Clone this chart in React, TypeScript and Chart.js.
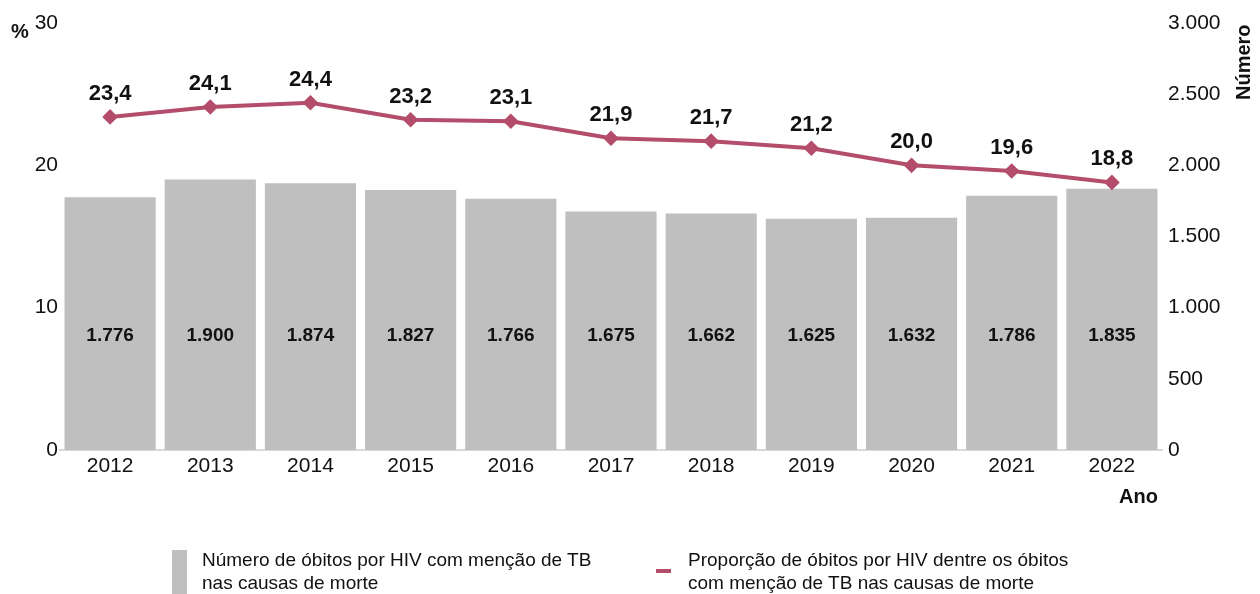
import React, { useEffect, useRef } from "react";
import { Chart, registerables } from "chart.js";
Chart.register(...registerables);

const years = ["2012", "2013", "2014", "2015", "2016", "2017", "2018", "2019", "2020", "2021", "2022"];
const proportion = [23.4, 24.1, 24.4, 23.2, 23.1, 21.9, 21.7, 21.2, 20.0, 19.6, 18.8];
const deaths = [1776, 1900, 1874, 1827, 1766, 1675, 1662, 1625, 1632, 1786, 1835];
const barLabel = "Número de óbitos por HIV com menção de TB nas causas de morte";
const lineLabel = "Proporção de óbitos por HIV dentre os óbitos com menção de TB nas causas de morte";

const NARROW = '"Liberation Sans Narrow", "Arial Narrow", "Liberation Sans", Arial, sans-serif';
const SANS = '"Liberation Sans", Arial, sans-serif';
const BAR_COLOR = "#bfbfbf";
const LINE_COLOR = "#b44d6b";

const fmtThousands = (v: number) => {
  const s = Math.round(v).toString();
  return s.replace(/\B(?=(\d{3})+(?!\d))/g, ".");
};
const fmtDecimal = (v: number) => v.toFixed(1).replace(".", ",");

const labelPlugin = {
  id: "valueLabels",
  afterDatasetsDraw(chart: any) {
    const ctx = chart.ctx;
    ctx.save();
    ctx.fillStyle = "#111";
    ctx.textAlign = "center";
    ctx.textBaseline = "middle";
    const barMeta = chart.getDatasetMeta(0);
    const yLevel = chart.scales.y1.getPixelForValue(800);
    ctx.font = `bold 19px ${SANS}`;
    barMeta.data.forEach((el: any, i: number) => {
      ctx.fillText(fmtThousands(deaths[i]), el.x, yLevel);
    });
    const lineMeta = chart.getDatasetMeta(1);
    ctx.font = `bold 22px ${SANS}`;
    lineMeta.data.forEach((el: any, i: number) => {
      ctx.fillText(fmtDecimal(proportion[i]), el.x, el.y - 23);
    });
    ctx.restore();
  },
};

export default function App() {
  const ref = useRef<HTMLCanvasElement | null>(null);
  useEffect(() => {
    if (!ref.current) return;
    const chart = new Chart(ref.current, {
      type: "bar",
      data: {
        labels: years,
        datasets: [
          {
            type: "bar",
            label: barLabel,
            data: deaths,
            yAxisID: "y1",
            backgroundColor: BAR_COLOR,
            barPercentage: 0.91,
            categoryPercentage: 1,
            order: 2,
          },
          {
            type: "line",
            label: lineLabel,
            data: proportion,
            yAxisID: "y",
            borderColor: LINE_COLOR,
            backgroundColor: LINE_COLOR,
            borderWidth: 4,
            pointStyle: "rectRot",
            pointRadius: 5,
            pointHoverRadius: 5,
            tension: 0,
            order: 1,
          } as any,
        ],
      },
      options: {
        animation: false,
        responsive: false,
        maintainAspectRatio: false,
        layout: { padding: { top: 23, left: 0, right: 0, bottom: 0 } },
        plugins: { legend: { display: false }, tooltip: { enabled: false } },
        scales: {
          x: {
            grid: { display: false, drawTicks: false, tickLength: 0 },
            border: { display: true, color: "#d9d9d9", width: 2 },
            ticks: { color: "#111", font: { family: NARROW, size: 21 }, padding: 4 },
            afterFit: (s: any) => { s.height = 144; },
          },
          y: {
            position: "left",
            min: 0,
            max: 30,
            grid: { display: false, drawTicks: false, tickLength: 0 },
            border: { display: false },
            ticks: { stepSize: 10, color: "#111", font: { family: NARROW, size: 21 }, padding: 2 },
            afterFit: (s: any) => { s.width = 60; },
          },
          y1: {
            position: "right",
            min: 0,
            max: 3000,
            grid: { display: false, drawTicks: false, tickLength: 0 },
            border: { display: false },
            ticks: {
              stepSize: 500,
              color: "#111",
              font: { family: NARROW, size: 21 },
              padding: 6,
              callback: (v: any) => fmtThousands(Number(v)),
            },
            afterFit: (s: any) => { s.width = 98; },
          },
        },
      },
      plugins: [labelPlugin],
    });
    return () => chart.destroy();
  }, []);

  const txt: React.CSSProperties = { position: "absolute", fontFamily: NARROW, color: "#111", whiteSpace: "nowrap" };
  return (
    <div style={{ position: "fixed", left: 0, top: 0, width: 1260, height: 594, background: "#fff", overflow: "hidden" }}>
      <canvas ref={ref} width={1260} height={594} style={{ position: "absolute", left: 0, top: 0, width: 1260, height: 594 }} />
      <div style={{ ...txt, left: 11, top: 20, fontSize: 20, fontWeight: "bold" }}>%</div>
      <div style={{ ...txt, left: 1231, top: 100, fontSize: 20, fontWeight: "bold", transform: "rotate(-90deg)", transformOrigin: "left top", lineHeight: "24px" }}>Número</div>
      <div style={{ ...txt, right: 1260 - 1158, top: 485, fontSize: 20, fontWeight: "bold" }}>Ano</div>
      <div style={{ position: "absolute", left: 172, top: 550, width: 15, height: 44, background: BAR_COLOR }} />
      <div style={{ ...txt, left: 202, top: 548, fontSize: 19, lineHeight: "23px" }}>
        Número de óbitos por HIV com menção de TB<br />nas causas de morte
      </div>
      <div style={{ position: "absolute", left: 656, top: 569, width: 15, height: 4, background: LINE_COLOR }} />
      <div style={{ ...txt, left: 688, top: 548, fontSize: 19, lineHeight: "23px" }}>
        Proporção de óbitos por HIV dentre os óbitos<br />com menção de TB nas causas de morte
      </div>
    </div>
  );
}
